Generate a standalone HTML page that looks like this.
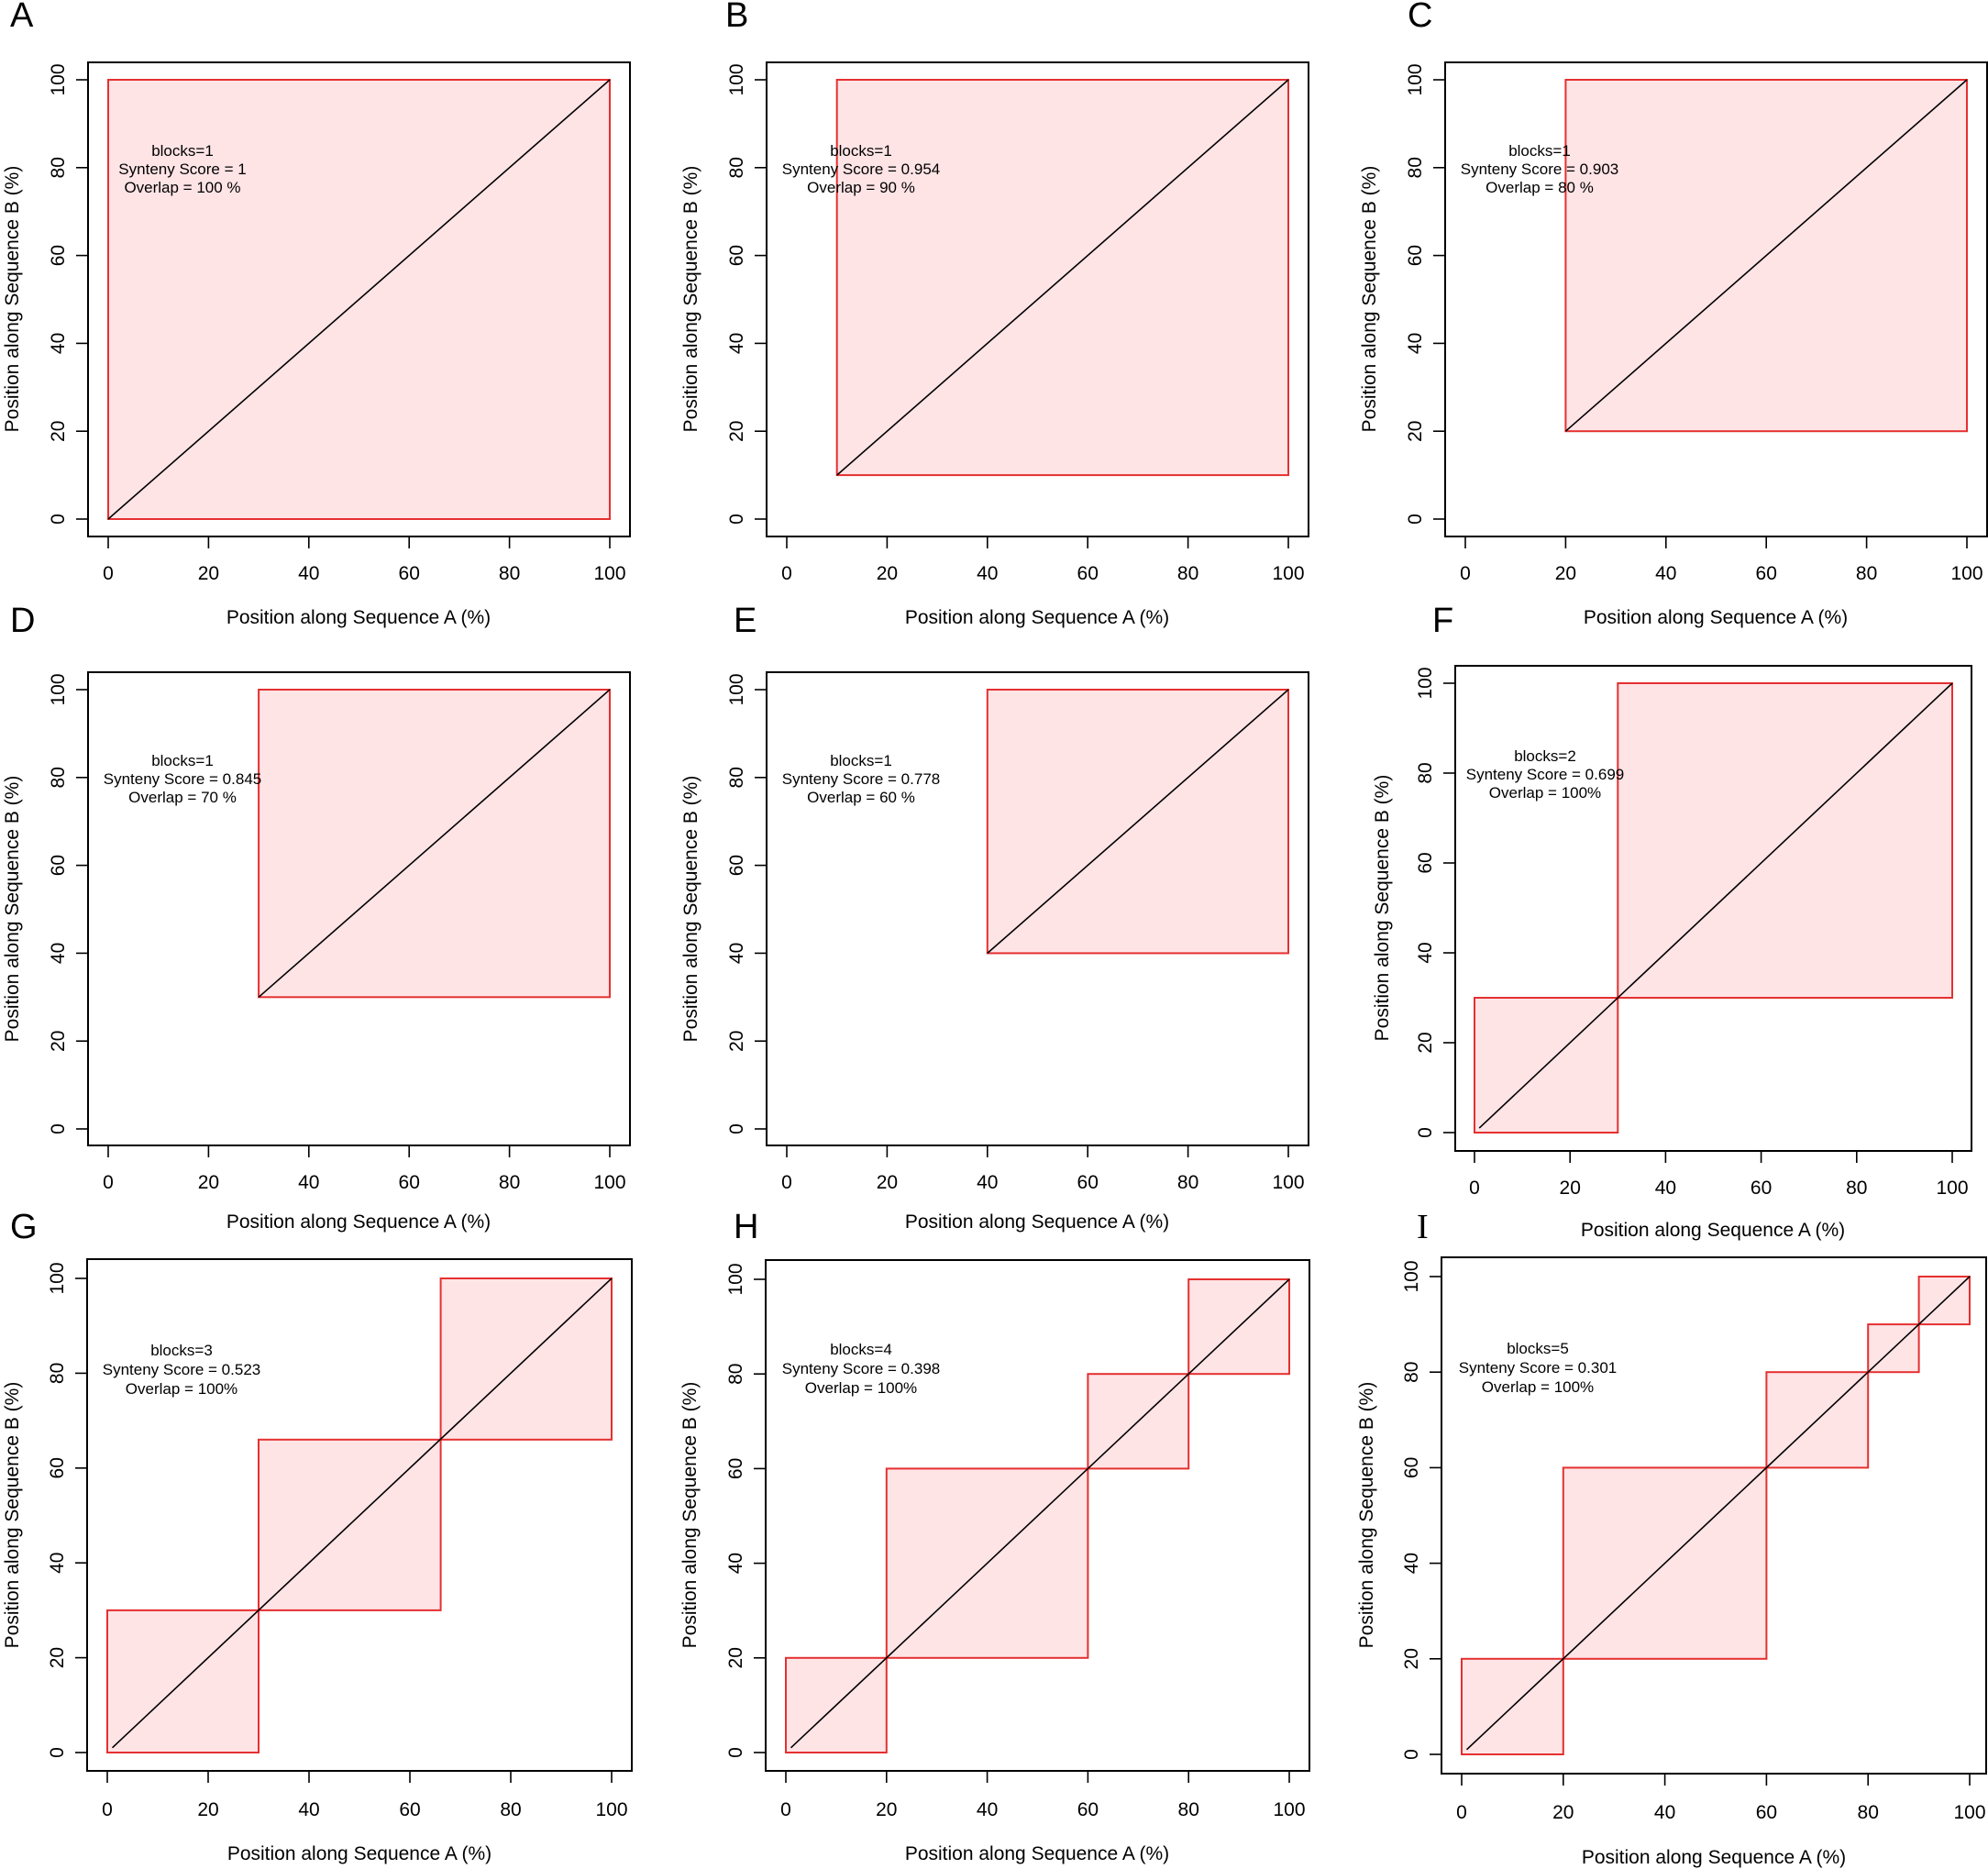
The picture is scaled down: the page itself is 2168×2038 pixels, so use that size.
<!DOCTYPE html>
<html><head><meta charset="utf-8"><style>
html,body{margin:0;padding:0;background:#fff}
svg{display:block}
text{font-family:"Liberation Sans",sans-serif;fill:#000}
.t{font-size:21px}
.ti{font-size:21px}
.an{font-size:17px;white-space:pre}
.lab{font-size:38px}
.bx{fill:none;stroke:#000;stroke-width:2}
.r{fill:#ffe4e6;stroke:#e53030;stroke-width:2}
.d{stroke:#000;stroke-width:1.6}
.k{stroke:#000;stroke-width:1.6}
</style></head><body>
<svg width="2168" height="2038" viewBox="0 0 2168 2038" xmlns="http://www.w3.org/2000/svg" xml:space="preserve">
<text class="lab" x="11" y="29">A</text>
<text class="lab" x="791" y="29">B</text>
<text class="lab" x="1535" y="29">C</text>
<text class="lab" x="11" y="689">D</text>
<text class="lab" x="800" y="689">E</text>
<text class="lab" x="1562" y="689">F</text>
<text class="lab" x="11" y="1350">G</text>
<text class="lab" x="800" y="1350">H</text>
<text class="lab" x="1545" y="1350" style="font-family:'Liberation Serif',serif">I</text>

<!-- ===== A ===== -->
<rect class="r" x="118" y="87" width="547" height="479"/>
<line class="d" x1="118" y1="566" x2="665" y2="87"/>
<rect class="bx" x="96" y="68" width="591" height="517"/>
<g class="k"><line x1="118" y1="585" x2="118" y2="598"/><line x1="227.4" y1="585" x2="227.4" y2="598"/><line x1="336.8" y1="585" x2="336.8" y2="598"/><line x1="446.2" y1="585" x2="446.2" y2="598"/><line x1="555.6" y1="585" x2="555.6" y2="598"/><line x1="665" y1="585" x2="665" y2="598"/>
<line x1="96" y1="566" x2="83" y2="566"/><line x1="96" y1="470.2" x2="83" y2="470.2"/><line x1="96" y1="374.4" x2="83" y2="374.4"/><line x1="96" y1="278.6" x2="83" y2="278.6"/><line x1="96" y1="182.8" x2="83" y2="182.8"/><line x1="96" y1="87" x2="83" y2="87"/></g>
<g class="t" text-anchor="middle"><text x="118" y="632">0</text><text x="227.4" y="632">20</text><text x="336.8" y="632">40</text><text x="446.2" y="632">60</text><text x="555.6" y="632">80</text><text x="665" y="632">100</text></g>
<g class="t" text-anchor="middle"><text transform="translate(70,566) rotate(-90)">0</text><text transform="translate(70,470.2) rotate(-90)">20</text><text transform="translate(70,374.4) rotate(-90)">40</text><text transform="translate(70,278.6) rotate(-90)">60</text><text transform="translate(70,182.8) rotate(-90)">80</text><text transform="translate(70,87) rotate(-90)">100</text></g>
<text class="ti" x="391" y="680" text-anchor="middle">Position along Sequence A (%)</text>
<text class="ti" transform="translate(20,326) rotate(-90)" text-anchor="middle">Position along Sequence B (%)</text>
<g class="an" text-anchor="middle"><text x="199" y="170">blocks=1</text><text x="199" y="190">Synteny Score =  1</text><text x="199" y="210">Overlap =  100 %</text></g>

<!-- ===== B ===== -->
<rect class="r" x="912.7" y="87" width="492.3" height="431.1"/>
<line class="d" x1="912.7" y1="518.1" x2="1405" y2="87"/>
<rect class="bx" x="836" y="68" width="591" height="517"/>
<g class="k"><line x1="858" y1="585" x2="858" y2="598"/><line x1="967.4" y1="585" x2="967.4" y2="598"/><line x1="1076.8" y1="585" x2="1076.8" y2="598"/><line x1="1186.2" y1="585" x2="1186.2" y2="598"/><line x1="1295.6" y1="585" x2="1295.6" y2="598"/><line x1="1405" y1="585" x2="1405" y2="598"/>
<line x1="836" y1="566" x2="823" y2="566"/><line x1="836" y1="470.2" x2="823" y2="470.2"/><line x1="836" y1="374.4" x2="823" y2="374.4"/><line x1="836" y1="278.6" x2="823" y2="278.6"/><line x1="836" y1="182.8" x2="823" y2="182.8"/><line x1="836" y1="87" x2="823" y2="87"/></g>
<g class="t" text-anchor="middle"><text x="858" y="632">0</text><text x="967.4" y="632">20</text><text x="1076.8" y="632">40</text><text x="1186.2" y="632">60</text><text x="1295.6" y="632">80</text><text x="1405" y="632">100</text></g>
<g class="t" text-anchor="middle"><text transform="translate(810,566) rotate(-90)">0</text><text transform="translate(810,470.2) rotate(-90)">20</text><text transform="translate(810,374.4) rotate(-90)">40</text><text transform="translate(810,278.6) rotate(-90)">60</text><text transform="translate(810,182.8) rotate(-90)">80</text><text transform="translate(810,87) rotate(-90)">100</text></g>
<text class="ti" x="1131" y="680" text-anchor="middle">Position along Sequence A (%)</text>
<text class="ti" transform="translate(760,326) rotate(-90)" text-anchor="middle">Position along Sequence B (%)</text>
<g class="an" text-anchor="middle"><text x="939" y="170">blocks=1</text><text x="939" y="190">Synteny Score =  0.954</text><text x="939" y="210">Overlap =  90 %</text></g>

<!-- ===== C ===== -->
<rect class="r" x="1707.4" y="87" width="437.6" height="383.2"/>
<line class="d" x1="1707.4" y1="470.2" x2="2145" y2="87"/>
<rect class="bx" x="1576" y="68" width="591" height="517"/>
<g class="k"><line x1="1598" y1="585" x2="1598" y2="598"/><line x1="1707.4" y1="585" x2="1707.4" y2="598"/><line x1="1816.8" y1="585" x2="1816.8" y2="598"/><line x1="1926.2" y1="585" x2="1926.2" y2="598"/><line x1="2035.6" y1="585" x2="2035.6" y2="598"/><line x1="2145" y1="585" x2="2145" y2="598"/>
<line x1="1576" y1="566" x2="1563" y2="566"/><line x1="1576" y1="470.2" x2="1563" y2="470.2"/><line x1="1576" y1="374.4" x2="1563" y2="374.4"/><line x1="1576" y1="278.6" x2="1563" y2="278.6"/><line x1="1576" y1="182.8" x2="1563" y2="182.8"/><line x1="1576" y1="87" x2="1563" y2="87"/></g>
<g class="t" text-anchor="middle"><text x="1598" y="632">0</text><text x="1707.4" y="632">20</text><text x="1816.8" y="632">40</text><text x="1926.2" y="632">60</text><text x="2035.6" y="632">80</text><text x="2145" y="632">100</text></g>
<g class="t" text-anchor="middle"><text transform="translate(1550,566) rotate(-90)">0</text><text transform="translate(1550,470.2) rotate(-90)">20</text><text transform="translate(1550,374.4) rotate(-90)">40</text><text transform="translate(1550,278.6) rotate(-90)">60</text><text transform="translate(1550,182.8) rotate(-90)">80</text><text transform="translate(1550,87) rotate(-90)">100</text></g>
<text class="ti" x="1871" y="680" text-anchor="middle">Position along Sequence A (%)</text>
<text class="ti" transform="translate(1500,326) rotate(-90)" text-anchor="middle">Position along Sequence B (%)</text>
<g class="an" text-anchor="middle"><text x="1679" y="170">blocks=1</text><text x="1679" y="190">Synteny Score =  0.903</text><text x="1679" y="210">Overlap =  80 %</text></g>

<!-- ===== D ===== -->
<rect class="r" x="282.1" y="752" width="382.9" height="335.3"/>
<line class="d" x1="282.1" y1="1087.3" x2="665" y2="752"/>
<rect class="bx" x="96" y="733" width="591" height="516"/>
<g class="k"><line x1="118" y1="1249" x2="118" y2="1262"/><line x1="227.4" y1="1249" x2="227.4" y2="1262"/><line x1="336.8" y1="1249" x2="336.8" y2="1262"/><line x1="446.2" y1="1249" x2="446.2" y2="1262"/><line x1="555.6" y1="1249" x2="555.6" y2="1262"/><line x1="665" y1="1249" x2="665" y2="1262"/>
<line x1="96" y1="1231" x2="83" y2="1231"/><line x1="96" y1="1135.2" x2="83" y2="1135.2"/><line x1="96" y1="1039.4" x2="83" y2="1039.4"/><line x1="96" y1="943.6" x2="83" y2="943.6"/><line x1="96" y1="847.8" x2="83" y2="847.8"/><line x1="96" y1="752" x2="83" y2="752"/></g>
<g class="t" text-anchor="middle"><text x="118" y="1296">0</text><text x="227.4" y="1296">20</text><text x="336.8" y="1296">40</text><text x="446.2" y="1296">60</text><text x="555.6" y="1296">80</text><text x="665" y="1296">100</text></g>
<g class="t" text-anchor="middle"><text transform="translate(70,1231) rotate(-90)">0</text><text transform="translate(70,1135.2) rotate(-90)">20</text><text transform="translate(70,1039.4) rotate(-90)">40</text><text transform="translate(70,943.6) rotate(-90)">60</text><text transform="translate(70,847.8) rotate(-90)">80</text><text transform="translate(70,752) rotate(-90)">100</text></g>
<text class="ti" x="391" y="1339" text-anchor="middle">Position along Sequence A (%)</text>
<text class="ti" transform="translate(20,991) rotate(-90)" text-anchor="middle">Position along Sequence B (%)</text>
<g class="an" text-anchor="middle"><text x="199" y="835">blocks=1</text><text x="199" y="855">Synteny Score =  0.845</text><text x="199" y="875">Overlap =  70 %</text></g>

<!-- ===== E ===== -->
<rect class="r" x="1076.8" y="752" width="328.2" height="287.4"/>
<line class="d" x1="1076.8" y1="1039.4" x2="1405" y2="752"/>
<rect class="bx" x="836" y="733" width="591" height="516"/>
<g class="k"><line x1="858" y1="1249" x2="858" y2="1262"/><line x1="967.4" y1="1249" x2="967.4" y2="1262"/><line x1="1076.8" y1="1249" x2="1076.8" y2="1262"/><line x1="1186.2" y1="1249" x2="1186.2" y2="1262"/><line x1="1295.6" y1="1249" x2="1295.6" y2="1262"/><line x1="1405" y1="1249" x2="1405" y2="1262"/>
<line x1="836" y1="1231" x2="823" y2="1231"/><line x1="836" y1="1135.2" x2="823" y2="1135.2"/><line x1="836" y1="1039.4" x2="823" y2="1039.4"/><line x1="836" y1="943.6" x2="823" y2="943.6"/><line x1="836" y1="847.8" x2="823" y2="847.8"/><line x1="836" y1="752" x2="823" y2="752"/></g>
<g class="t" text-anchor="middle"><text x="858" y="1296">0</text><text x="967.4" y="1296">20</text><text x="1076.8" y="1296">40</text><text x="1186.2" y="1296">60</text><text x="1295.6" y="1296">80</text><text x="1405" y="1296">100</text></g>
<g class="t" text-anchor="middle"><text transform="translate(810,1231) rotate(-90)">0</text><text transform="translate(810,1135.2) rotate(-90)">20</text><text transform="translate(810,1039.4) rotate(-90)">40</text><text transform="translate(810,943.6) rotate(-90)">60</text><text transform="translate(810,847.8) rotate(-90)">80</text><text transform="translate(810,752) rotate(-90)">100</text></g>
<text class="ti" x="1131" y="1339" text-anchor="middle">Position along Sequence A (%)</text>
<text class="ti" transform="translate(760,991) rotate(-90)" text-anchor="middle">Position along Sequence B (%)</text>
<g class="an" text-anchor="middle"><text x="939" y="835">blocks=1</text><text x="939" y="855">Synteny Score =  0.778</text><text x="939" y="875">Overlap =  60 %</text></g>

<!-- ===== F ===== -->
<rect class="r" x="1608" y="1088" width="156.3" height="147"/>
<rect class="r" x="1764.3" y="745" width="364.7" height="343"/>
<line class="d" x1="1613.2" y1="1230.1" x2="2129" y2="745"/>
<rect class="bx" x="1587" y="726" width="563" height="529"/>
<g class="k"><line x1="1608" y1="1255" x2="1608" y2="1268"/><line x1="1712.2" y1="1255" x2="1712.2" y2="1268"/><line x1="1816.4" y1="1255" x2="1816.4" y2="1268"/><line x1="1920.6" y1="1255" x2="1920.6" y2="1268"/><line x1="2024.8" y1="1255" x2="2024.8" y2="1268"/><line x1="2129" y1="1255" x2="2129" y2="1268"/>
<line x1="1587" y1="1235" x2="1574" y2="1235"/><line x1="1587" y1="1137" x2="1574" y2="1137"/><line x1="1587" y1="1039" x2="1574" y2="1039"/><line x1="1587" y1="941" x2="1574" y2="941"/><line x1="1587" y1="843" x2="1574" y2="843"/><line x1="1587" y1="745" x2="1574" y2="745"/></g>
<g class="t" text-anchor="middle"><text x="1608" y="1302">0</text><text x="1712.2" y="1302">20</text><text x="1816.4" y="1302">40</text><text x="1920.6" y="1302">60</text><text x="2024.8" y="1302">80</text><text x="2129" y="1302">100</text></g>
<g class="t" text-anchor="middle"><text transform="translate(1561,1235) rotate(-90)">0</text><text transform="translate(1561,1137) rotate(-90)">20</text><text transform="translate(1561,1039) rotate(-90)">40</text><text transform="translate(1561,941) rotate(-90)">60</text><text transform="translate(1561,843) rotate(-90)">80</text><text transform="translate(1561,745) rotate(-90)">100</text></g>
<text class="ti" x="1868" y="1348" text-anchor="middle">Position along Sequence A (%)</text>
<text class="ti" transform="translate(1514,990) rotate(-90)" text-anchor="middle">Position along Sequence B (%)</text>
<g class="an" text-anchor="middle"><text x="1685" y="830">blocks=2</text><text x="1685" y="850">Synteny Score =  0.699</text><text x="1685" y="870">Overlap =  100%</text></g>

<!-- ===== G ===== -->
<rect class="r" x="117" y="1755.9" width="165" height="155.1"/>
<rect class="r" x="282" y="1569.8" width="198.6" height="186.1"/>
<rect class="r" x="480.6" y="1394" width="186.4" height="175.8"/>
<line class="d" x1="122.5" y1="1905.8" x2="667" y2="1394"/>
<rect class="bx" x="95" y="1373" width="594" height="558"/>
<g class="k"><line x1="117" y1="1931" x2="117" y2="1944"/><line x1="227" y1="1931" x2="227" y2="1944"/><line x1="337" y1="1931" x2="337" y2="1944"/><line x1="447" y1="1931" x2="447" y2="1944"/><line x1="557" y1="1931" x2="557" y2="1944"/><line x1="667" y1="1931" x2="667" y2="1944"/>
<line x1="95" y1="1911" x2="82" y2="1911"/><line x1="95" y1="1807.6" x2="82" y2="1807.6"/><line x1="95" y1="1704.2" x2="82" y2="1704.2"/><line x1="95" y1="1600.8" x2="82" y2="1600.8"/><line x1="95" y1="1497.4" x2="82" y2="1497.4"/><line x1="95" y1="1394" x2="82" y2="1394"/></g>
<g class="t" text-anchor="middle"><text x="117" y="1980">0</text><text x="227" y="1980">20</text><text x="337" y="1980">40</text><text x="447" y="1980">60</text><text x="557" y="1980">80</text><text x="667" y="1980">100</text></g>
<g class="t" text-anchor="middle"><text transform="translate(69,1911) rotate(-90)">0</text><text transform="translate(69,1807.6) rotate(-90)">20</text><text transform="translate(69,1704.2) rotate(-90)">40</text><text transform="translate(69,1600.8) rotate(-90)">60</text><text transform="translate(69,1497.4) rotate(-90)">80</text><text transform="translate(69,1394) rotate(-90)">100</text></g>
<text class="ti" x="392" y="2028" text-anchor="middle">Position along Sequence A (%)</text>
<text class="ti" transform="translate(20,1652) rotate(-90)" text-anchor="middle">Position along Sequence B (%)</text>
<g class="an" text-anchor="middle"><text x="198" y="1478">blocks=3</text><text x="198" y="1499">Synteny Score =  0.523</text><text x="198" y="1520">Overlap =  100%</text></g>

<!-- ===== H ===== -->
<rect class="r" x="857" y="1807.8" width="109.8" height="103.2"/>
<rect class="r" x="966.8" y="1601.4" width="219.6" height="206.4"/>
<rect class="r" x="1186.4" y="1498.2" width="109.8" height="103.2"/>
<rect class="r" x="1296.2" y="1395" width="109.8" height="103.2"/>
<line class="d" x1="862.5" y1="1905.8" x2="1406" y2="1395"/>
<rect class="bx" x="835" y="1374" width="593" height="557"/>
<g class="k"><line x1="857" y1="1931" x2="857" y2="1944"/><line x1="966.8" y1="1931" x2="966.8" y2="1944"/><line x1="1076.6" y1="1931" x2="1076.6" y2="1944"/><line x1="1186.4" y1="1931" x2="1186.4" y2="1944"/><line x1="1296.2" y1="1931" x2="1296.2" y2="1944"/><line x1="1406" y1="1931" x2="1406" y2="1944"/>
<line x1="835" y1="1911" x2="822" y2="1911"/><line x1="835" y1="1807.8" x2="822" y2="1807.8"/><line x1="835" y1="1704.6" x2="822" y2="1704.6"/><line x1="835" y1="1601.4" x2="822" y2="1601.4"/><line x1="835" y1="1498.2" x2="822" y2="1498.2"/><line x1="835" y1="1395" x2="822" y2="1395"/></g>
<g class="t" text-anchor="middle"><text x="857" y="1980">0</text><text x="966.8" y="1980">20</text><text x="1076.6" y="1980">40</text><text x="1186.4" y="1980">60</text><text x="1296.2" y="1980">80</text><text x="1406" y="1980">100</text></g>
<g class="t" text-anchor="middle"><text transform="translate(809,1911) rotate(-90)">0</text><text transform="translate(809,1807.8) rotate(-90)">20</text><text transform="translate(809,1704.6) rotate(-90)">40</text><text transform="translate(809,1601.4) rotate(-90)">60</text><text transform="translate(809,1498.2) rotate(-90)">80</text><text transform="translate(809,1395) rotate(-90)">100</text></g>
<text class="ti" x="1131" y="2028" text-anchor="middle">Position along Sequence A (%)</text>
<text class="ti" transform="translate(759,1652) rotate(-90)" text-anchor="middle">Position along Sequence B (%)</text>
<g class="an" text-anchor="middle"><text x="939" y="1477">blocks=4</text><text x="939" y="1498">Synteny Score =  0.398</text><text x="939" y="1519">Overlap =  100%</text></g>

<!-- ===== I ===== -->
<rect class="r" x="1594" y="1808.8" width="110.8" height="104.2"/>
<rect class="r" x="1704.8" y="1600.4" width="221.6" height="208.4"/>
<rect class="r" x="1926.4" y="1496.2" width="110.8" height="104.2"/>
<rect class="r" x="2037.2" y="1444.1" width="55.4" height="52.1"/>
<rect class="r" x="2092.6" y="1392" width="55.4" height="52.1"/>
<line class="d" x1="1599.5" y1="1907.8" x2="2148" y2="1392"/>
<rect class="bx" x="1572" y="1371" width="594" height="563"/>
<g class="k"><line x1="1594" y1="1934" x2="1594" y2="1947"/><line x1="1704.8" y1="1934" x2="1704.8" y2="1947"/><line x1="1815.6" y1="1934" x2="1815.6" y2="1947"/><line x1="1926.4" y1="1934" x2="1926.4" y2="1947"/><line x1="2037.2" y1="1934" x2="2037.2" y2="1947"/><line x1="2148" y1="1934" x2="2148" y2="1947"/>
<line x1="1572" y1="1913" x2="1559" y2="1913"/><line x1="1572" y1="1808.8" x2="1559" y2="1808.8"/><line x1="1572" y1="1704.6" x2="1559" y2="1704.6"/><line x1="1572" y1="1600.4" x2="1559" y2="1600.4"/><line x1="1572" y1="1496.2" x2="1559" y2="1496.2"/><line x1="1572" y1="1392" x2="1559" y2="1392"/></g>
<g class="t" text-anchor="middle"><text x="1594" y="1983">0</text><text x="1704.8" y="1983">20</text><text x="1815.6" y="1983">40</text><text x="1926.4" y="1983">60</text><text x="2037.2" y="1983">80</text><text x="2148" y="1983">100</text></g>
<g class="t" text-anchor="middle"><text transform="translate(1546,1913) rotate(-90)">0</text><text transform="translate(1546,1808.8) rotate(-90)">20</text><text transform="translate(1546,1704.6) rotate(-90)">40</text><text transform="translate(1546,1600.4) rotate(-90)">60</text><text transform="translate(1546,1496.2) rotate(-90)">80</text><text transform="translate(1546,1392) rotate(-90)">100</text></g>
<text class="ti" x="1869" y="2032" text-anchor="middle">Position along Sequence A (%)</text>
<text class="ti" transform="translate(1497,1652) rotate(-90)" text-anchor="middle">Position along Sequence B (%)</text>
<g class="an" text-anchor="middle"><text x="1677" y="1476">blocks=5</text><text x="1677" y="1497">Synteny Score =  0.301</text><text x="1677" y="1518">Overlap =  100%</text></g>
</svg>
</body></html>
